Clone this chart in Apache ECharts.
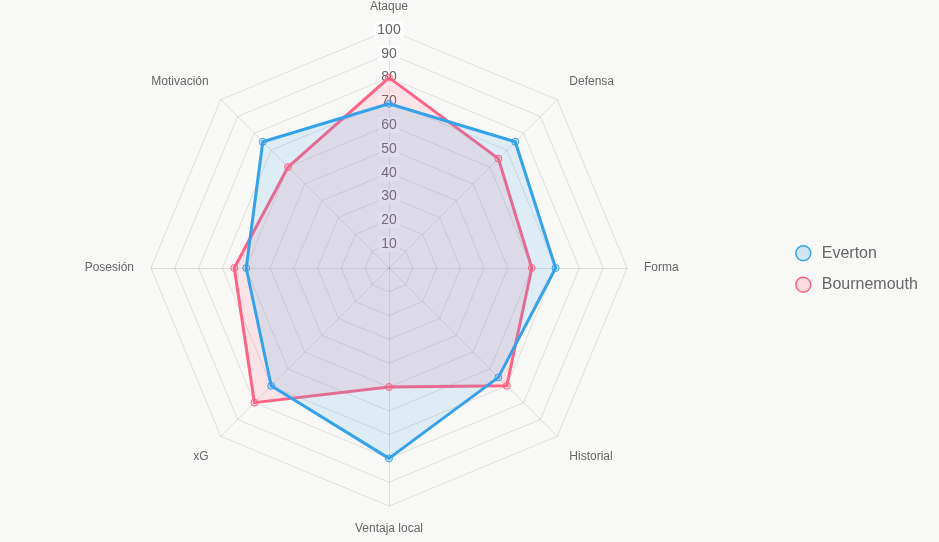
<!DOCTYPE html>
<html>
<head>
<meta charset="utf-8">
<script src="https://cdn.jsdelivr.net/npm/echarts@6/dist/echarts.min.js"></script>
<style>
    html, body { margin: 0; padding: 0; background: #f8f8f7; }
    #radarChart { width: 939px; height: 542px; }
</style>
</head>
<body>
<div id="radarChart"></div>
<script>
// ECharts radar goes counter-clockwise, so the list runs Ataque -> Motivación -> ... -> Defensa
var indicatorNames = ["Ataque", "Motivación", "Posesión", "xG", "Ventaja local", "Historial", "Forma", "Defensa"];
var evertonValues = [69, 75, 60, 70, 80, 65, 70, 75];
var bournemouthValues = [80, 60, 65, 80, 50, 70, 60, 65];
var teamNames = ["Everton", "Bournemouth"];

var chartDom = document.getElementById("radarChart");
var mychart = echarts.init(chartDom);

var lineColors = ["rgb(54,162,235)", "rgb(255,99,132)"];
var fillColors = ["rgba(54,162,235,0.2)", "rgba(255,99,132,0.2)"];

var indicators = indicatorNames.map(function (name, i) {
    var item = { name: name, min: 0, max: 100 };
    if (i === 0) {
        // 只在第一根轴上显示刻度
        item.axisLabel = {
            show: true,
            showMinLabel: false,
            fontSize: 14,
            color: "#666",
            backgroundColor: "rgba(255,255,255,0.75)",
            padding: [1, 3],
            margin: 0,
            align: "center",
            verticalAlign: "middle"
        };
    }
    return item;
});

function makeSeries(idx, values) {
    return {
        name: teamNames[idx],
        type: "radar",
        symbol: "circle",
        symbolSize: 7,
        animation: false,
        lineStyle: { color: lineColors[idx], width: 3 },
        itemStyle: { color: fillColors[idx], borderColor: lineColors[idx], borderWidth: 1 },
        areaStyle: { color: fillColors[idx] },
        data: [{ value: values, name: teamNames[idx] }]
    };
}

var option = {
    backgroundColor: "#f8f8f7",
    textStyle: { fontFamily: "Liberation Sans, Arial, sans-serif" },
    legend: {
        orient: "vertical",
        left: 790,
        top: 240,
        itemWidth: 15,
        itemHeight: 15,
        itemGap: 15,
        icon: "circle",
        textStyle: { fontSize: 16, color: "#666", padding: [0, 0, 0, 6] },
        data: [
            { name: teamNames[0], itemStyle: { color: fillColors[0], borderColor: lineColors[0], borderWidth: 1.5 } },
            { name: teamNames[1], itemStyle: { color: fillColors[1], borderColor: lineColors[1], borderWidth: 1.5 } }
        ]
    },
    radar: {
        center: [389, 268],
        radius: 238,
        startAngle: 90,
        shape: "polygon",
        splitNumber: 10,
        nameGap: 17,
        axisName: {
            color: "#666",
            fontSize: 12,
            // diagonal names sit a bit higher / lower like the original
            formatter: function (name) {
                if (name === "Defensa" || name === "Motivación") return "{up|" + name + "}";
                if (name === "Historial" || name === "xG") return "{down|" + name + "}";
                return name;
            },
            rich: {
                up: { color: "#666", fontSize: 12, padding: [0, 0, 12, 0] },
                down: { color: "#666", fontSize: 12, padding: [16, 0, 0, 0] }
            }
        },
        axisLine: { lineStyle: { color: "rgba(0,0,0,0.1)" } },
        splitLine: { lineStyle: { color: "rgba(0,0,0,0.1)" } },
        splitArea: { show: false },
        axisLabel: { show: false },
        indicator: indicators
    },
    series: [
        makeSeries(1, bournemouthValues),
        makeSeries(0, evertonValues)
    ]
};

option && mychart.setOption(option);
</script>
</body>
</html>
